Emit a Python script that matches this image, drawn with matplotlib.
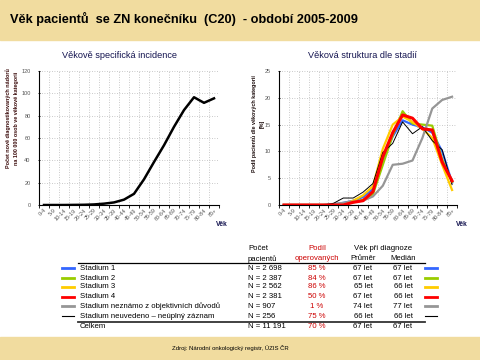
import matplotlib.pyplot as plt
from matplotlib.patches import Rectangle
from matplotlib.lines import Line2D

W, H = 480, 360
DPI = 100

age_groups = ['0-4', '5-9', '10-14', '15-19', '20-24', '25-29', '30-34', '35-39',
              '40-44', '45-49', '50-54', '55-59', '60-64', '65-69', '70-74',
              '75-79', '80-84', '85+']

# incidence per 100 000
incidence = [0, 0, 0, 0.1, 0.2, 0.5, 1.2, 2.3, 4.8, 10, 23, 38.5, 53.5, 70,
             85, 96.5, 91.5, 95.5]

# share of patients by age group [%]
stage1 = [0, 0, 0, 0, 0, 0.1, 0.4, 0.8, 1.5, 3.0, 8.5, 12.8, 15.8, 15.0, 14.5, 13.5, 10.0, 4.2]
stage2 = [0, 0, 0, 0, 0, 0, 0.2, 0.5, 1.0, 2.0, 7.5, 13.0, 17.5, 15.2, 15.0, 14.8, 8.5, 4.3]
stage3 = [0, 0, 0, 0, 0, 0, 0.2, 0.8, 1.8, 3.5, 10.5, 15.0, 16.5, 15.5, 14.2, 12.5, 7.5, 2.8]
stage4 = [0, 0, 0, 0, 0, 0, 0, 0.5, 0.8, 2.5, 9.0, 13.5, 16.8, 16.2, 14.2, 14.0, 8.0, 4.5]
stage_unknown = [0, 0, 0, 0, 0, 0.2, 0.4, 0.6, 0.8, 1.6, 3.6, 7.5, 7.7, 8.3, 12.5, 18.0, 19.6, 20.2]
stage_missing = [0, 0, 0, 0, 0, 0.3, 1.3, 1.3, 2.4, 4.0, 9.8, 11.5, 15.5, 13.3, 14.6, 12.0, 10.3, 3.8]

stage_names = ['Stadium 1', 'Stadium 2', 'Stadium 3', 'Stadium 4',
               'Stadium neznámo z objektivních důvodů',
               'Stadium neuvedeno – neúplný záznam']
stage_n = ['N = 2 698', 'N = 2 387', 'N = 2 562', 'N = 2 381', 'N = 907', 'N = 256']
stage_oper = ['85 %', '84 %', '86 %', '50 %', '1 %', '75 %']
stage_mean = ['67 let', '67 let', '65 let', '67 let', '74 let', '66 let']
stage_median = ['67 let', '67 let', '66 let', '66 let', '77 let', '66 let']
total = ['Celkem', 'N = 11 191', '70 %', '67 let', '67 let']

colors = ['#3366FF', '#99CC00', '#FFCC00', '#FF0000', '#969696', '#000000']
widths = [1.6, 1.6, 1.6, 2.2, 1.6, 0.7]

plt.rcParams['font.family'] = ['Liberation Sans', 'DejaVu Sans']

NAVY = '#141450'
BAND = '#F1DC9F'


def fx(x):
    return x / W


def fy(y):
    return 1 - y / H


def style_axes(ax, ymax, ystep):
    n = len(age_groups)
    ax.set_xlim(-0.5, n - 0.5)
    ax.set_ylim(0, ymax)
    ax.set_yticks(range(0, ymax + 1, ystep))
    ax.set_xticks([i - 0.5 for i in range(n + 1)])
    ax.set_xticklabels([])
    ax.set_xticks(range(n), minor=True)
    ax.set_xticklabels(age_groups, minor=True, rotation=45, ha='right',
                       rotation_mode='anchor', fontsize=4, color='#555555')
    ax.tick_params(axis='x', which='minor', length=0, pad=2)
    ax.tick_params(axis='x', which='major', length=2, width=0.6, direction='out')
    ax.tick_params(axis='y', length=2, width=0.6, direction='inout',
                   labelsize=4, labelcolor='#555555', pad=5)
    for s in ['top', 'right']:
        ax.spines[s].set_visible(False)
    for s in ['left', 'bottom']:
        ax.spines[s].set_linewidth(0.8)
    ax.grid(True, which='major', color='#B8B8B8', linestyle=(0, (1, 2)), linewidth=0.6)
    ax.set_axisbelow(True)


fig = plt.figure(figsize=(W / DPI, H / DPI), dpi=DPI)

# header / footer bands
fig.patches.append(Rectangle((0, fy(40)), 1, 40 / H, transform=fig.transFigure,
                             color=BAND, zorder=0))
fig.patches.append(Rectangle((0, 0), 1, 23 / H, transform=fig.transFigure,
                             color=BAND, zorder=0))
fig.text(fx(10), fy(19), 'Věk pacientů  se ZN konečníku  (C20)  - období 2005-2009',
         fontsize=9.2, fontweight='bold', va='center', ha='left')
fig.text(fx(172), fy(348), 'Zdroj: Národní onkologický registr, ÚZIS ČR',
         fontsize=4.3, va='center', ha='left')

# left chart
ax1 = fig.add_axes([fx(39), fy(205), 180 / W, 134 / H])
ax1.plot(range(len(age_groups)), incidence, color='black', linewidth=1.8)
style_axes(ax1, 120, 20)
fig.text(fx(120), fy(55), 'Věkově specifická incidence', fontsize=6.6,
         color=NAVY, ha='center', va='center')
fig.text(fx(12), fy(118), 'Počet nově diagnostikovaných nádorů\nna 100 000 osob ve věkové kategorii',
         rotation=90, fontsize=3.9, fontweight='bold', color='#3a0a0a',
         ha='center', va='center', linespacing=1.7)
fig.text(fx(222), fy(225), 'Věk', fontsize=4.8, fontweight='bold', color=NAVY,
         ha='center', va='center')

# right chart
ax2 = fig.add_axes([fx(279), fy(205), 178 / W, 134 / H])
series = [stage1, stage2, stage3, stage_unknown, stage_missing, stage4]
order = [0, 1, 2, 4, 5, 3]
for vals, k in zip(series, order):
    ax2.plot(range(len(age_groups)), vals, color=colors[k], linewidth=widths[k])
style_axes(ax2, 25, 5)
fig.text(fx(362), fy(55), 'Věková struktura dle stadií', fontsize=6.6,
         color=NAVY, ha='center', va='center')
fig.text(fx(258), fy(124), 'Podíl pacientů dle věkových kategorií\n[%]',
         rotation=90, fontsize=3.9, fontweight='bold', color='#1a0a0a',
         ha='center', va='center', linespacing=1.7)
fig.text(fx(462), fy(225), 'Věk', fontsize=4.8, fontweight='bold', color=NAVY,
         ha='center', va='center')

# table
fs = 5.6
RED = '#CC0000'
fig.text(fx(248), fy(249), 'Počet', fontsize=fs, va='center')
fig.text(fx(248), fy(259), 'pacientů', fontsize=fs, va='center')
fig.text(fx(317), fy(249), 'Podíl', fontsize=fs, va='center', ha='center', color=RED)
fig.text(fx(317), fy(259), 'operovaných', fontsize=fs, va='center', ha='center', color=RED)
fig.text(fx(383), fy(249), 'Věk při diagnoze', fontsize=fs, va='center', ha='center')
fig.text(fx(363), fy(259), 'Průměr', fontsize=fs, va='center', ha='center')
fig.text(fx(403), fy(259), 'Medián', fontsize=fs, va='center', ha='center')

fig.add_artist(Line2D([fx(78), fx(425)], [fy(263), fy(263)], color='black', linewidth=0.9))
fig.add_artist(Line2D([fx(78), fx(425)], [fy(321.5), fy(321.5)], color='#333333', linewidth=1.3))

rows_y = [268, 278, 287, 297, 306, 316]
for i, y in enumerate(rows_y):
    lw = 2.0 if i < 5 else 0.8
    fig.add_artist(Line2D([fx(62), fx(74)], [fy(y), fy(y)], color=colors[i], linewidth=lw))
    fig.add_artist(Line2D([fx(425), fx(437)], [fy(y), fy(y)], color=colors[i], linewidth=lw))
    fig.text(fx(80), fy(y), stage_names[i], fontsize=fs, va='center')
    fig.text(fx(248), fy(y), stage_n[i], fontsize=fs, va='center')
    fig.text(fx(317), fy(y), stage_oper[i], fontsize=fs, va='center', ha='center', color=RED)
    fig.text(fx(363), fy(y), stage_mean[i], fontsize=fs, va='center', ha='center')
    fig.text(fx(403), fy(y), stage_median[i], fontsize=fs, va='center', ha='center')

yc = 326
fig.text(fx(80), fy(yc), total[0], fontsize=fs, va='center')
fig.text(fx(248), fy(yc), total[1], fontsize=fs, va='center')
fig.text(fx(317), fy(yc), total[2], fontsize=fs, va='center', ha='center', color=RED)
fig.text(fx(363), fy(yc), total[3], fontsize=fs, va='center', ha='center')
fig.text(fx(403), fy(yc), total[4], fontsize=fs, va='center', ha='center')

fig.savefig('out.png', dpi=DPI)
